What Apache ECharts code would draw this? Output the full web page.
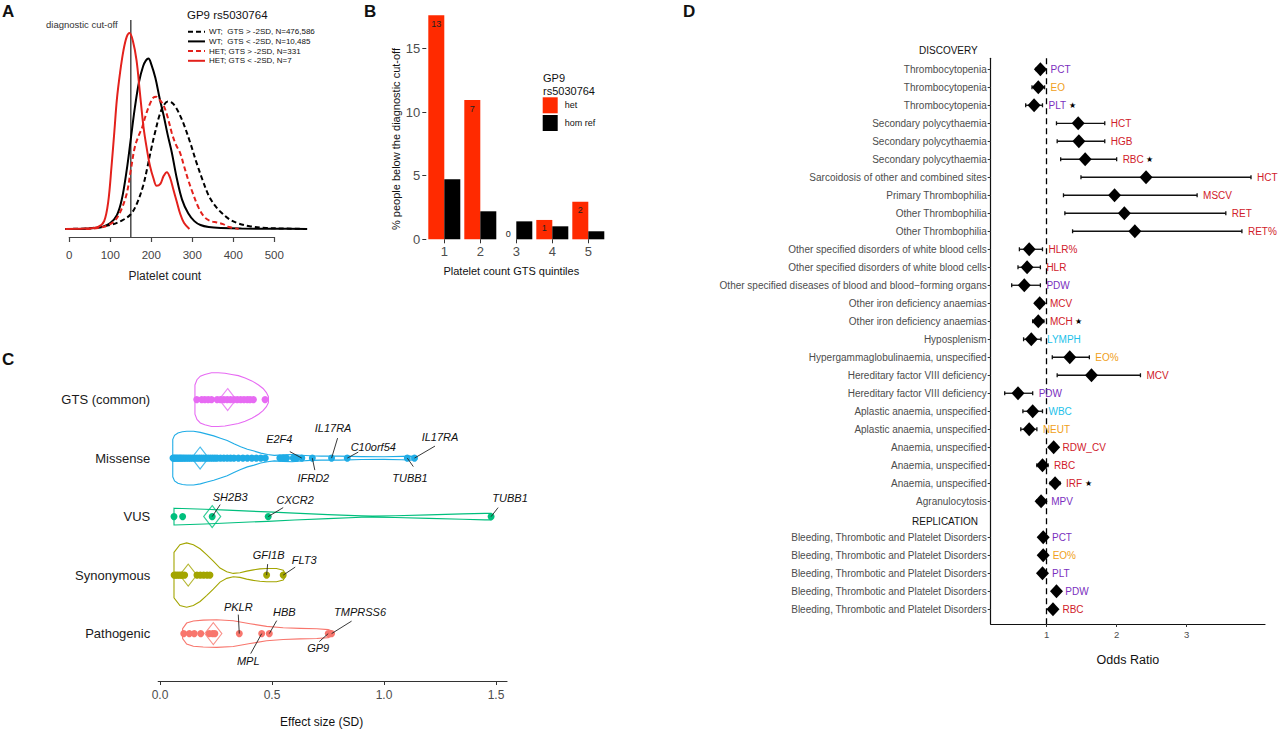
<!DOCTYPE html>
<html><head><meta charset="utf-8">
<script src="https://cdn.jsdelivr.net/npm/echarts@6/dist/echarts.min.js"></script>
<style>html,body{margin:0;padding:0;background:#fff}#c{width:1280px;height:729px}</style>
</head><body><div id="c"></div>
<script>
// ================= DATA =================
// Panel A: density curves of platelet count
const wtHighX = [-10, 50, 100, 130, 150, 165, 180, 190, 200, 210, 220, 230, 240, 250, 260, 270, 280, 295, 310, 325, 340, 355, 370, 390, 410, 440, 480, 530, 580];
const wtHighY = [0, 0.004, 0.02, 0.045, 0.075, 0.13, 0.22, 0.31, 0.41, 0.5, 0.58, 0.63, 0.65, 0.645, 0.62, 0.58, 0.53, 0.44, 0.34, 0.25, 0.17, 0.12, 0.085, 0.05, 0.03, 0.014, 0.005, 0.002, 0];
const wtLowX = [-10, 50, 80, 100, 116, 128, 140, 150, 160, 170, 180, 187, 193, 200, 210, 220, 230, 240, 250, 262, 275, 290, 305, 320, 340, 370, 420, 500, 580];
const wtLowY = [0, 0.003, 0.01, 0.03, 0.07, 0.15, 0.3, 0.46, 0.62, 0.75, 0.83, 0.86, 0.87, 0.84, 0.77, 0.67, 0.58, 0.48, 0.39, 0.26, 0.15, 0.08, 0.04, 0.02, 0.01, 0.005, 0.002, 0.001, 0];
const hetHighX = [40, 70, 90, 110, 125, 140, 150, 160, 170, 178, 185, 195, 205, 212, 220, 230, 240, 250, 260, 270, 280, 290, 300, 315, 330, 345, 360, 375, 390, 413];
const hetHighY = [0, 0.005, 0.015, 0.04, 0.09, 0.18, 0.30, 0.42, 0.48, 0.52, 0.57, 0.63, 0.67, 0.675, 0.66, 0.63, 0.57, 0.49, 0.43, 0.39, 0.32, 0.25, 0.19, 0.11, 0.06, 0.04, 0.033, 0.025, 0.01, 0];
const hetLowX = [-10, 40, 70, 85, 95, 103, 110, 116, 124, 132, 140, 147, 155, 164, 172, 181, 189, 197, 205, 213, 222, 230, 238, 246, 254, 262, 270, 280, 293];
const hetLowY = [0, 0.002, 0.01, 0.04, 0.14, 0.32, 0.5, 0.66, 0.8, 0.91, 0.98, 1.0, 0.96, 0.86, 0.7, 0.52, 0.41, 0.32, 0.26, 0.22, 0.23, 0.27, 0.29, 0.26, 0.2, 0.14, 0.08, 0.03, 0];
const cutoff = 150;
const seriesNamesA = ['WT;\u00a0\u00a0GTS > -2SD, N=476,586', 'WT;\u00a0\u00a0GTS < -2SD, N=10,485', 'HET; GTS > -2SD, N=331', 'HET; GTS < -2SD, N=7'];
const ticksA = [0, 100, 200, 300, 400, 500];

// Panel B: % below cut-off by GTS quintile
const quintiles = ['1', '2', '3', '4', '5'];
const hetPct = [17.6, 10.94, 0, 1.52, 2.95];
const homRefPct = [4.71, 2.2, 1.41, 1.02, 0.63];
const hetCounts = [13, 7, 0, 1, 2];
const ticksB = [0, 5, 10, 15];

// Panel C: effect sizes by variant class
const groups = ['GTS (common)', 'Missense', 'VUS', 'Synonymous', 'Pathogenic'];
const violinX = [
  [0.156, 0.165, 0.18, 0.20, 0.23, 0.26, 0.29, 0.32, 0.35, 0.38, 0.41, 0.44, 0.46, 0.475, 0.484],
  [0.057, 0.065, 0.08, 0.10, 0.12, 0.15, 0.18, 0.21, 0.24, 0.27, 0.30, 0.33, 0.36, 0.39, 0.42, 0.45, 0.48, 0.51, 0.55, 0.59, 0.63, 0.67, 0.72, 0.8, 0.9, 1.0, 1.08, 1.12, 1.146],
  [0.0625, 0.1, 0.2, 0.3, 0.4, 0.48, 0.6, 0.75, 0.9, 0.95, 1.05, 1.2, 1.35, 1.45, 1.478],
  [0.0625, 0.089, 0.119, 0.149, 0.179, 0.208, 0.238, 0.268, 0.298, 0.327, 0.357, 0.387, 0.417, 0.446, 0.476, 0.52, 0.55, 0.558],
  [0.101, 0.119, 0.149, 0.193, 0.253, 0.327, 0.402, 0.476, 0.55, 0.625, 0.7, 0.751, 0.766]
];
const violinW = [
  [0.25, 0.34, 0.40, 0.43, 0.46, 0.46, 0.45, 0.43, 0.41, 0.37, 0.32, 0.25, 0.19, 0.12, 0.05],
  [0.32, 0.39, 0.43, 0.45, 0.46, 0.46, 0.44, 0.41, 0.38, 0.34, 0.30, 0.245, 0.195, 0.15, 0.12, 0.085, 0.062, 0.047, 0.056, 0.062, 0.05, 0.039, 0.034, 0.034, 0.025, 0.022, 0.029, 0.034, 0.017],
  [0.144, 0.139, 0.127, 0.11, 0.093, 0.081, 0.059, 0.034, 0.012, 0.008, 0.015, 0.03, 0.046, 0.056, 0.056],
  [0.39, 0.52, 0.55, 0.52, 0.45, 0.35, 0.24, 0.12, 0.056, 0.029, 0.039, 0.068, 0.09, 0.106, 0.113, 0.113, 0.084, 0.034],
  [0.085, 0.18, 0.215, 0.23, 0.236, 0.22, 0.17, 0.123, 0.1, 0.09, 0.084, 0.068, 0.045]
];
const effGTS = [0.164, 0.186, 0.2, 0.215, 0.23, 0.255, 0.27, 0.285, 0.3, 0.315, 0.33, 0.345, 0.36, 0.375, 0.39, 0.402, 0.417, 0.469];
const effMissense = [0.058, 0.063, 0.068, 0.074, 0.08, 0.086, 0.092, 0.098, 0.105, 0.112, 0.12, 0.128, 0.136, 0.145, 0.155, 0.165, 0.175, 0.185, 0.195, 0.205, 0.215, 0.225, 0.235, 0.245, 0.255, 0.27, 0.285, 0.3, 0.315, 0.33, 0.35, 0.37, 0.39, 0.41, 0.43, 0.45, 0.47, 0.535, 0.55, 0.565, 0.595, 0.61, 0.633, 0.68, 0.766, 0.836, 1.104, 1.136];
const effVUS = [0.0625, 0.101, 0.233, 0.483, 1.478];
const effSyn = [0.063, 0.07, 0.078, 0.086, 0.094, 0.1, 0.11, 0.165, 0.18, 0.195, 0.21, 0.223, 0.476, 0.55];
const effPath = [0.106, 0.131, 0.153, 0.182, 0.22, 0.235, 0.245, 0.354, 0.454, 0.488, 0.751, 0.766];
const effMeans = [0.302, 0.179, 0.233, 0.126, 0.238];
const geneNames = ['E2F4', 'IFRD2', 'IL17RA', 'C10orf54', 'IL17RA', 'TUBB1', 'SH2B3', 'CXCR2', 'TUBB1', 'GFI1B', 'FLT3', 'PKLR', 'HBB', 'TMPRSS6', 'MPL', 'GP9'];
const geneEffect = [0.633, 0.68, 0.766, 0.836, 1.136, 1.104, 0.233, 0.483, 1.478, 0.476, 0.55, 0.354, 0.488, 0.766, 0.454, 0.751];
const geneGroup = [1, 1, 1, 1, 1, 1, 2, 2, 2, 3, 3, 4, 4, 4, 4, 4];
const ticksC = [0, 0.5, 1, 1.5];

// Panel D: odds ratios
const rowNames = ['Thrombocytopenia', 'Thrombocytopenia', 'Thrombocytopenia', 'Secondary polycythaemia', 'Secondary polycythaemia', 'Secondary polycythaemia', 'Sarcoidosis of other and combined sites', 'Primary Thrombophilia', 'Other Thrombophilia', 'Other Thrombophilia', 'Other specified disorders of white blood cells', 'Other specified disorders of white blood cells', 'Other specified diseases of blood and blood\u2212forming organs', 'Other iron deficiency anaemias', 'Other iron deficiency anaemias', 'Hyposplenism', 'Hypergammaglobulinaemia, unspecified', 'Hereditary factor VIII deficiency', 'Hereditary factor VIII deficiency', 'Aplastic anaemia, unspecified', 'Aplastic anaemia, unspecified', 'Anaemia, unspecified', 'Anaemia, unspecified', 'Anaemia, unspecified', 'Agranulocytosis', 'REPLICATION', 'Bleeding, Thrombotic and Platelet Disorders', 'Bleeding, Thrombotic and Platelet Disorders', 'Bleeding, Thrombotic and Platelet Disorders', 'Bleeding, Thrombotic and Platelet Disorders', 'Bleeding, Thrombotic and Platelet Disorders'];
const rowTrait = ['PCT', 'EO', 'PLT', 'HCT', 'HGB', 'RBC', 'HCT', 'MSCV', 'RET', 'RET%', 'HLR%', 'HLR', 'PDW', 'MCV', 'MCH', 'LYMPH', 'EO%', 'MCV', 'PDW', 'WBC', 'NEUT', 'RDW_CV', 'RBC', 'IRF', 'MPV', null, 'PCT', 'EO%', 'PLT', 'PDW', 'RBC'];
const rowOR = [0.91, 0.88, 0.82, 1.45, 1.46, 1.55, 2.42, 1.97, 2.11, 2.26, 0.75, 0.72, 0.68, 0.90, 0.88, 0.78, 1.33, 1.64, 0.59, 0.80, 0.75, 1.10, 0.94, 1.12, 0.92, null, 0.95, 0.95, 0.94, 1.14, 1.09];
const rowLo = [0.85, 0.79, 0.70, 1.14, 1.15, 1.20, 1.49, 1.24, 1.26, 1.37, 0.61, 0.59, 0.50, 0.84, 0.80, 0.67, 1.08, 1.15, 0.40, 0.66, 0.63, 1.06, 0.86, 1.05, 0.86, null, 0.91, 0.90, 0.89, 1.10, 1.04];
const rowHi = [0.97, 0.97, 0.94, 1.83, 1.83, 2.00, 3.92, 3.15, 3.56, 3.79, 0.94, 0.91, 0.91, 0.96, 0.96, 0.92, 1.61, 2.34, 0.80, 0.94, 0.86, 1.14, 1.02, 1.19, 0.98, null, 0.99, 1.00, 0.99, 1.18, 1.14];
const rowStar = [0, 0, 1, 0, 0, 1, 0, 0, 0, 0, 0, 0, 0, 0, 1, 0, 0, 0, 0, 0, 0, 0, 0, 1, 0, 0, 0, 0, 0, 0, 0];
const ticksD = [1, 2, 3];

// ================= STYLE =================
const FONT = "'Liberation Sans', Arial, Helvetica, sans-serif";
const RED_A = '#e3211c';
const RED_B = '#ff2a00';
const groupColors = ['#E76BF3', '#1FACE6', '#00BF7D', '#A3A500', '#F8766D'];
const traitColors = { PCT: '#7b2fbe', PLT: '#7b2fbe', PDW: '#7b2fbe', MPV: '#7b2fbe', EO: '#f0a020', 'EO%': '#f0a020', NEUT: '#f0a020', LYMPH: '#22c2ea', WBC: '#22c2ea' };
const traitColor = t => traitColors[t] || '#d0202a';
const TRAIT_FONT = '10px ' + FONT;
const TRAIT_GAP = 6;
// label offsets (px) for gene annotations: [lineEndDx, lineEndDy, textDx, textDy]
const geneLayout = [[-12, -6.5, -22.5, -19], [2.5, 12, 1, 20], [6, -20, 1.5, -30], [11, -6, 26, -11.5], [20.5, -12, 25.5, -21], [6, 8.5, 2.7, 20], [8, -12, 18, -19.5], [15, -9, 27, -17], [7, -9, 19, -19], [1, -11, 2, -20], [12, -8, 21, -15], [-1, -19, -1, -26.5], [7.4, -13, 15, -21.5], [20, -12.5, 28.5, -21.5], [-11, 20, -13.5, 27.5], [-9, 8, -10, 14.5]];
// legend A layout
const legA = { x: 188, y0: 31.7, dy: 9.7, len: 17, textX: 209 };
const legAStyles = [{ c: '#000', d: [5, 3] }, { c: '#000', d: null }, { c: RED_A, d: [5, 3] }, { c: RED_A, d: null }];
const gray = '#4d4d4d';

// ================= BUILD =================
const measureCtx = document.createElement('canvas').getContext('2d');
const textWidth = (t, font) => { measureCtx.font = font; return measureCtx.measureText(t).width; };
const pairs = (xs, ys) => xs.map((x, i) => [x, ys[i]]);
const grids = [
  { left: 65.2, top: 13.4, width: 241.9, height: 223.6 },  // A curves
  { left: 69.3, top: 13.4, width: 205, height: 223.6 },    // A axis
  { left: 426.3, top: 3.8, width: 180, height: 235.5 },     // B
  { left: 158.2, top: 364.5, width: 348.8, height: 320.5 }, // C
  { left: 990.7, top: 58.3, width: 274.3, height: 565.7 }   // D
];
const noAxis = { show: false };
const hidden = (gi, min, max) => ({ gridIndex: gi, type: 'value', min, max, show: false, splitLine: noAxis });

const xAxes = [
  hidden(0, -10, 580),
  { gridIndex: 1, type: 'value', min: 0, max: 500, splitLine: noAxis,
    axisLine: { onZero: false, lineStyle: { color: '#444', width: 1.2 } },
    axisTick: { customValues: ticksA, length: 5, lineStyle: { color: '#444', width: 1.2 } },
    axisLabel: { customValues: ticksA, color: '#444', fontSize: 11.5, fontFamily: FONT, margin: 12 },
    name: 'Platelet count', nameLocation: 'middle', nameGap: 33,
    nameTextStyle: { fontSize: 12, color: '#222', fontFamily: FONT, padding: [0, 14, 0, 0] } },
  { gridIndex: 2, type: 'category', data: quintiles, axisLine: { show: false, onZero: false },
    axisTick: { show: true, alignWithLabel: true, length: 4, lineStyle: { color: '#333' } },
    axisLabel: { color: gray, fontSize: 13, fontFamily: FONT, margin: 6 },
    name: 'Platelet count GTS quintiles', nameLocation: 'middle', nameGap: 26,
    nameTextStyle: { fontSize: 11, color: '#111', fontFamily: FONT, padding: [0, 10, 0, 0] } },
  { gridIndex: 3, type: 'value', min: -0.008, max: 1.549, splitLine: noAxis,
    axisLine: { onZero: false, lineStyle: { color: '#333', width: 1.2 } },
    axisTick: { customValues: ticksC, length: 4, lineStyle: { color: '#333' } },
    axisLabel: { customValues: ticksC, formatter: v => Number(v).toFixed(1), color: gray, fontSize: 12, fontFamily: FONT, margin: 8 },
    name: 'Effect size (SD)', nameLocation: 'middle', nameGap: 35,
    nameTextStyle: { fontSize: 12, color: '#111', fontFamily: FONT, padding: [0, 22, 0, 0] } },
  { gridIndex: 4, type: 'value', min: 0.2, max: 4.12, splitLine: noAxis,
    axisLine: { onZero: false, lineStyle: { color: '#111', width: 1.2 } },
    axisTick: { customValues: ticksD, length: 3, lineStyle: { color: '#333' } },
    axisLabel: { customValues: ticksD, color: gray, fontSize: 9.5, fontFamily: FONT, margin: 5 },
    name: 'Odds Ratio', nameLocation: 'middle', nameGap: 29,
    nameTextStyle: { fontSize: 12.5, color: '#111', fontFamily: FONT } }
];
const dRowIdx = rowNames.map((_, i) => i).filter(i => rowTrait[i] !== null);
const yAxes = [
  hidden(0, -0.041, 1.1),
  hidden(1, 0, 1),
  { gridIndex: 2, type: 'value', min: 0, max: 18.5, splitLine: noAxis, axisLine: { show: false, onZero: false },
    axisTick: { show: true, customValues: ticksB, length: 4, lineStyle: { color: '#333' } },
    axisLabel: { customValues: ticksB, color: gray, fontSize: 13, fontFamily: FONT, margin: 6 } },
  { gridIndex: 3, type: 'value', inverse: true, min: -0.6, max: 4.81, splitLine: noAxis,
    axisLine: { show: false, onZero: false }, axisTick: { show: false },
    axisLabel: { customValues: [0, 1, 2, 3, 4], formatter: v => groups[Math.round(v)], color: '#1a1a1a', fontSize: 13, fontFamily: FONT, margin: 8 } },
  { gridIndex: 4, type: 'value', inverse: true, min: -0.61, max: 30.82, splitLine: noAxis,
    axisLine: { onZero: false, lineStyle: { color: '#111', width: 1.2 } },
    axisTick: { show: true, customValues: dRowIdx, length: 3, lineStyle: { color: '#333' } },
    axisLabel: { customValues: dRowIdx, formatter: v => rowNames[Math.round(v)], color: gray, fontSize: 10, fontFamily: FONT, margin: 4 } }
];

const series = [];
// ---- A
const aData = [pairs(wtHighX, wtHighY), pairs(wtLowX, wtLowY), pairs(hetHighX, hetHighY), pairs(hetLowX, hetLowY)];
aData.forEach((d, k) => series.push({ type: 'line', name: seriesNamesA[k], xAxisIndex: 0, yAxisIndex: 0, data: d,
  smooth: 0.35, symbol: 'none', showSymbol: false, color: legAStyles[k].c,
  lineStyle: { color: legAStyles[k].c, width: 2, type: legAStyles[k].d || 'solid' }, z: 3, silent: true }));
series.push({ type: 'line', name: 'cutoff', xAxisIndex: 0, yAxisIndex: 0, data: [[cutoff, -0.041], [cutoff, 1.066]],
  symbol: 'none', lineStyle: { color: '#4a4a4a', width: 1.5 }, z: 2, silent: true });

// ---- B
series.push({ type: 'bar', name: 'het', xAxisIndex: 2, yAxisIndex: 2, color: RED_B, barWidth: 16, barGap: '0%', silent: true,
  data: hetPct.map(v => ({ value: v, label: v === 0 ? { position: 'top', distance: 1 } : {} })),
  label: { show: true, position: 'insideTop', distance: 4, formatter: p => String(hetCounts[p.dataIndex]), color: '#222', fontSize: 9, fontFamily: FONT } });
series.push({ type: 'bar', name: 'hom ref', xAxisIndex: 2, yAxisIndex: 2, color: '#000', barWidth: 16, barGap: '0%', data: homRefPct, silent: true });

// ---- C
const effByGroup = [effGTS, effMissense, effVUS, effSyn, effPath];
groups.forEach((gname, g) => {
  series.push({ type: 'custom', name: 'violin' + g, xAxisIndex: 3, yAxisIndex: 3, data: [[effMeans[g], g]], z: 2, silent: true,
    renderItem: (params, api) => {
      const xs = violinX[g], ws = violinW[g];
      const top = [], bot = [];
      for (let i = 0; i < xs.length; i++) {
        top.push(api.coord([xs[i], g - ws[i]]));
        bot.unshift(api.coord([xs[i], g + ws[i]]));
      }
      return { type: 'polygon', shape: { points: top.concat(bot) }, style: { fill: 'none', stroke: groupColors[g], lineWidth: 1.1 } };
    } });
  series.push({ type: 'scatter', name: 'pts' + g, xAxisIndex: 3, yAxisIndex: 3, symbolSize: 7, z: 3, silent: true,
    itemStyle: { color: groupColors[g], opacity: 1 }, data: effByGroup[g].map(x => [x, g]) });
});
series.push({ type: 'scatter', name: 'means', xAxisIndex: 3, yAxisIndex: 3, symbol: 'diamond', symbolSize: [17, 22], z: 4, silent: true,
  data: effMeans.map((m, g) => ({ value: [m, g], itemStyle: { color: 'rgba(0,0,0,0)', borderColor: groupColors[g], borderWidth: 1.2 } })) });
series.push({ type: 'custom', name: 'genes', xAxisIndex: 3, yAxisIndex: 3, z: 5, silent: true,
  data: geneNames.map((n, i) => [geneEffect[i], geneGroup[i], i]),
  renderItem: (params, api) => {
    const i = api.value(2);
    const p = api.coord([api.value(0), api.value(1)]);
    const L = geneLayout[i];
    return { type: 'group', children: [
      { type: 'line', shape: { x1: p[0], y1: p[1], x2: p[0] + L[0], y2: p[1] + L[1] }, style: { stroke: '#222', lineWidth: 0.9 } },
      { type: 'text', style: { text: geneNames[i], x: p[0] + L[2], y: p[1] + L[3], fill: '#111', font: 'italic 11px ' + FONT,
        align: 'center', verticalAlign: 'middle', textAlign: 'center', textVerticalAlign: 'middle' } }
    ] };
  } });

// ---- D
series.push({ type: 'custom', name: 'ci', xAxisIndex: 4, yAxisIndex: 4, z: 2, silent: true,
  data: dRowIdx.map(i => [rowLo[i], rowHi[i], i]),
  renderItem: (params, api) => {
    const a = api.coord([api.value(0), api.value(2)]);
    const b = api.coord([api.value(1), api.value(2)]);
    const st = { stroke: '#111', lineWidth: 1.3 };
    return { type: 'group', children: [
      { type: 'line', shape: { x1: a[0], y1: a[1], x2: b[0], y2: b[1] }, style: st },
      { type: 'line', shape: { x1: a[0], y1: a[1] - 2, x2: a[0], y2: a[1] + 2 }, style: st },
      { type: 'line', shape: { x1: b[0], y1: b[1] - 2, x2: b[0], y2: b[1] + 2 }, style: st }
    ] };
  } });
series.push({ type: 'scatter', name: 'or', xAxisIndex: 4, yAxisIndex: 4, symbol: 'diamond', symbolSize: [13, 14], z: 4, silent: true,
  itemStyle: { color: '#000', opacity: 1 }, data: dRowIdx.map(i => [rowOR[i], i]),
  markLine: { silent: true, symbol: 'none', label: { show: false }, lineStyle: { color: '#000', type: [6, 4], width: 1.3 }, data: [{ xAxis: 1 }] } });
series.push({ type: 'custom', name: 'traits', xAxisIndex: 4, yAxisIndex: 4, z: 5, silent: true,
  data: dRowIdx.map(i => [rowHi[i], i]),
  renderItem: (params, api) => {
    const i = api.value(1);
    const p = api.coord([api.value(0), i]);
    const t = rowTrait[i];
    const kids = [{ type: 'text', style: { text: t, x: p[0] + TRAIT_GAP, y: p[1], fill: traitColor(t), font: TRAIT_FONT,
      align: 'left', verticalAlign: 'middle', textAlign: 'left', textVerticalAlign: 'middle' } }];
    if (rowStar[i]) {
      const tw = textWidth(t, TRAIT_FONT);
      kids.push({ type: 'text', style: { text: '\u2605', x: p[0] + TRAIT_GAP + tw + 2.5, y: p[1], fill: '#000', font: '8px ' + FONT,
        align: 'left', verticalAlign: 'middle', textAlign: 'left', textVerticalAlign: 'middle' } });
    }
    return { type: 'group', children: kids };
  } });

const T = (text, left, top, size, weight, extra) => Object.assign({ text, left, top, padding: 0,
  textStyle: Object.assign({ fontSize: size, fontWeight: weight || 'normal', color: '#111', fontFamily: FONT }, extra || {}) });

// legend A drawn with graphic primitives
const legendAGraphics = [];
seriesNamesA.forEach((n, k) => {
  const y = legA.y0 + k * legA.dy;
  legendAGraphics.push({ type: 'line', shape: { x1: legA.x, y1: y, x2: legA.x + legA.len, y2: y },
    style: { stroke: legAStyles[k].c, lineWidth: 2, lineDash: legAStyles[k].d } });
  legendAGraphics.push({ type: 'text', x: legA.textX, y: y,
    style: { text: n, fill: '#111', font: '8px ' + FONT, align: 'left', verticalAlign: 'middle', textAlign: 'left', textVerticalAlign: 'middle' } });
});

const option = {
  animation: false,
  backgroundColor: '#fff',
  textStyle: { fontFamily: FONT },
  title: [
    T('A', 2, 3, 17, 'bold'), T('B', 364, 3, 17, 'bold'), T('C', 2, 351, 17, 'bold'), T('D', 683, 3, 17, 'bold'),
    T('diagnostic cut-off', 46, 19, 9.5, 'normal', { color: '#333' }),
    T('GP9 rs5030764', 187, 9, 11.5),
    T('GP9\nrs5030764', 543, 71, 11, 'normal', { lineHeight: 13 }),
    T('DISCOVERY', 919, 45, 10),
    T('REPLICATION', 912, 516, 10)
  ],
  legend: [
    { data: ['het', 'hom ref'], left: 542.7, top: 97.3, orient: 'vertical', icon: 'rect', itemWidth: 15, itemHeight: 16, itemGap: 1.7, padding: 0,
      textStyle: { fontSize: 9, color: '#111', fontFamily: FONT, padding: [0, 0, 0, 2] }, selectedMode: false }
  ],
  graphic: [
    { type: 'text', x: 396, y: 139, rotation: Math.PI / 2,
      style: { text: '% people below the diagnostic cut-off', fill: '#111', font: '11px ' + FONT, align: 'center', verticalAlign: 'middle', textAlign: 'center', textVerticalAlign: 'middle' } }
  ].concat(legendAGraphics),
  grid: grids,
  xAxis: xAxes,
  yAxis: yAxes,
  series
};
const chart = echarts.init(document.getElementById('c'), null, { renderer: 'svg', width: 1280, height: 729 });
chart.setOption(option);
</script>
</body></html>
